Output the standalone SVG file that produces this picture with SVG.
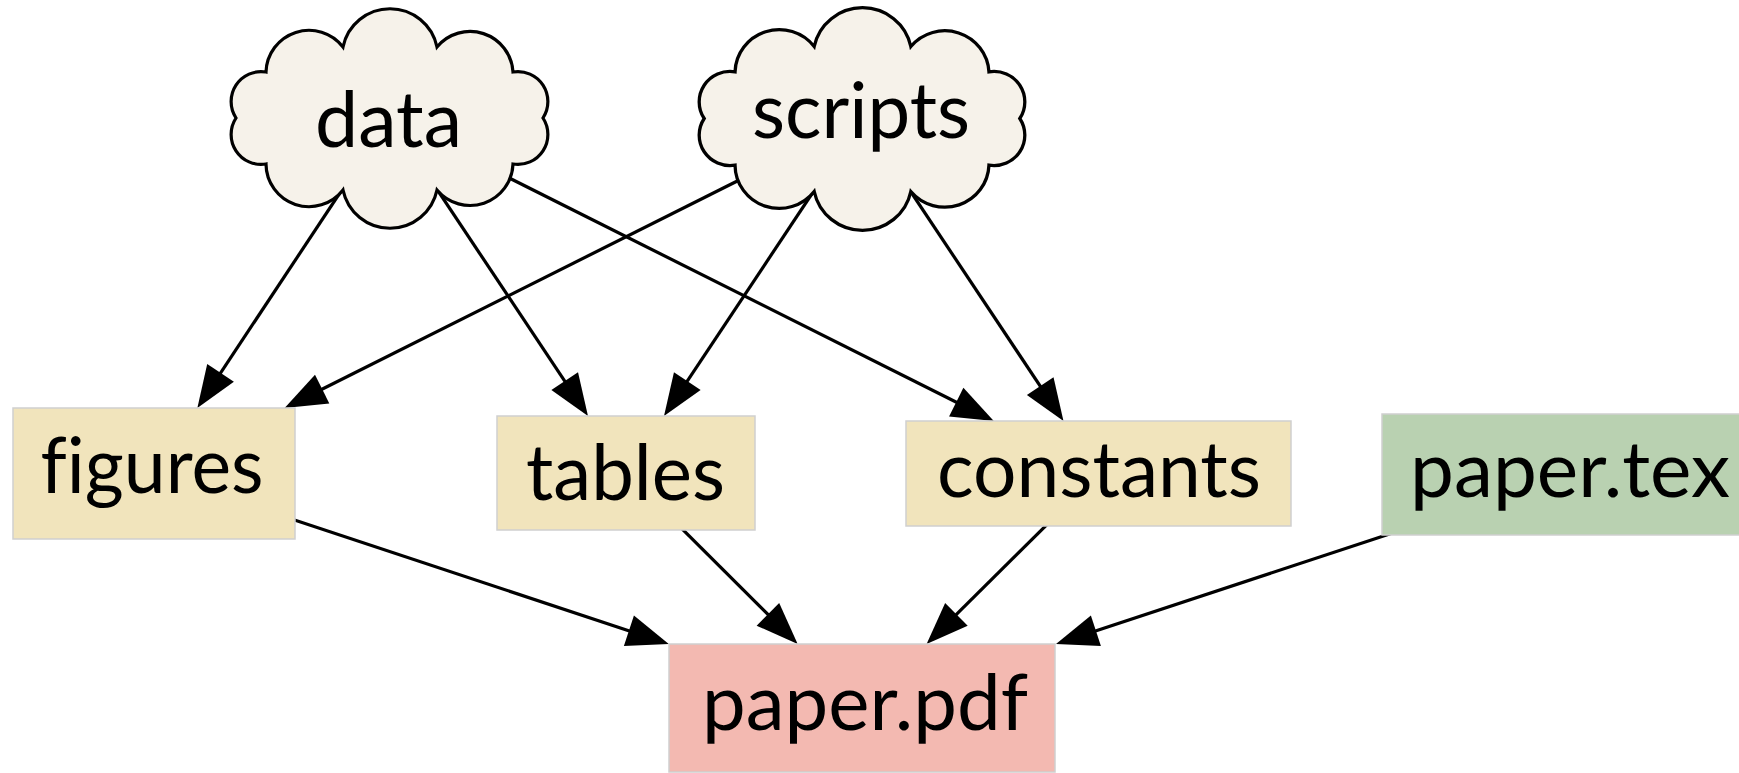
<svg xmlns="http://www.w3.org/2000/svg" xmlns:xlink="http://www.w3.org/1999/xlink" width="1739" height="773" viewBox="0 0 1739 773">
<style>
.cloud{fill:#f6f2ea;stroke:#000;stroke-width:3.2}
.box{stroke:#cfcfcf;stroke-width:1.5}
.yel{fill:#f1e4bc}
.grn{fill:#b9d1b1}
.pnk{fill:#f3b9b1}
.lbl{font-family:Lato,"Liberation Sans",sans-serif;font-size:78px;fill:#000;text-anchor:middle;font-variant-ligatures:none;font-feature-settings:"liga" 0}
.edge{stroke:#000;stroke-width:3.2;fill:none;marker-end:url(#arr)}
</style>
<defs>
<path id="cloudShape" d="M-123.5,-46 A43,43 0 0 1 -46.5,-71 A48,48 0 0 1 47.5,-71 A43,43 0 0 1 123.5,-46 A30,30 0 0 1 153.5,0 A30,30 0 0 1 123.5,46 A43,43 0 0 1 47.5,72 A48,48 0 0 1 -46.5,72 A43,43 0 0 1 -123.5,46 A30,30 0 0 1 -153.5,0 A30,30 0 0 1 -123.5,-46 Z"/>
<marker id="arr" markerUnits="userSpaceOnUse" markerWidth="70" markerHeight="44" viewBox="-45 -22 70 44" refX="0" refY="0" orient="auto" overflow="visible">
<path d="M20,0 L-22,-16 L-22,16 Z" fill="#000"/>
</marker>
</defs>
<rect width="1739" height="773" fill="#fff"/>
<g id="connectors">
<line class="edge" x1="389.5" y1="118" x2="208.4" y2="391.3"/>
<line class="edge" x1="389.5" y1="118" x2="576.9" y2="399.4"/>
<line class="edge" x1="389.5" y1="118" x2="975.9" y2="412"/>
<line class="edge" x1="862" y1="118.5" x2="302.5" y2="399"/>
<line class="edge" x1="862" y1="118.5" x2="675.1" y2="399.4"/>
<line class="edge" x1="862" y1="118.5" x2="1052.4" y2="404.4"/>
<line class="edge" x1="154" y1="473.5" x2="649.8" y2="637.7"/>
<line class="edge" x1="626" y1="473" x2="783.5" y2="629.9"/>
<line class="edge" x1="1098.5" y1="473.5" x2="940.8" y2="629.9"/>
<line class="edge" x1="1570" y1="474.5" x2="1075" y2="637.7"/>
</g>
<g id="data">
<use xlink:href="#cloudShape" href="#cloudShape" class="cloud" transform="translate(389.5,118)"/>
<text class="lbl" x="388.5" y="147" textLength="147" lengthAdjust="spacingAndGlyphs">data</text>
</g>
<g id="scripts">
<use xlink:href="#cloudShape" href="#cloudShape" class="cloud" transform="translate(862,118.5) scale(1.028,1.014)"/>
<text class="lbl" x="861" y="138" textLength="218" lengthAdjust="spacingAndGlyphs">scripts</text>
</g>
<g id="figures">
<rect class="box yel" x="13" y="408" width="282" height="131"/>
<text class="lbl" x="152" y="493" textLength="223" lengthAdjust="spacingAndGlyphs">figures</text>
</g>
<g id="tables">
<rect class="box yel" x="497" y="416" width="258" height="114"/>
<text class="lbl" x="625.5" y="500" textLength="199" lengthAdjust="spacingAndGlyphs">tables</text>
</g>
<g id="constants">
<rect class="box yel" x="906" y="421" width="385" height="105"/>
<text class="lbl" x="1099" y="497" textLength="324" lengthAdjust="spacingAndGlyphs">constants</text>
</g>
<g id="paper-tex">
<rect class="box grn" x="1382" y="414" width="376" height="121"/>
<text class="lbl" x="1570" y="497" textLength="320" lengthAdjust="spacingAndGlyphs">paper.tex</text>
</g>
<g id="paper-pdf">
<rect class="box pnk" x="669" y="644" width="386" height="128"/>
<text class="lbl" x="865" y="730" textLength="326" lengthAdjust="spacingAndGlyphs">paper.pdf</text>
</g>
</svg>
